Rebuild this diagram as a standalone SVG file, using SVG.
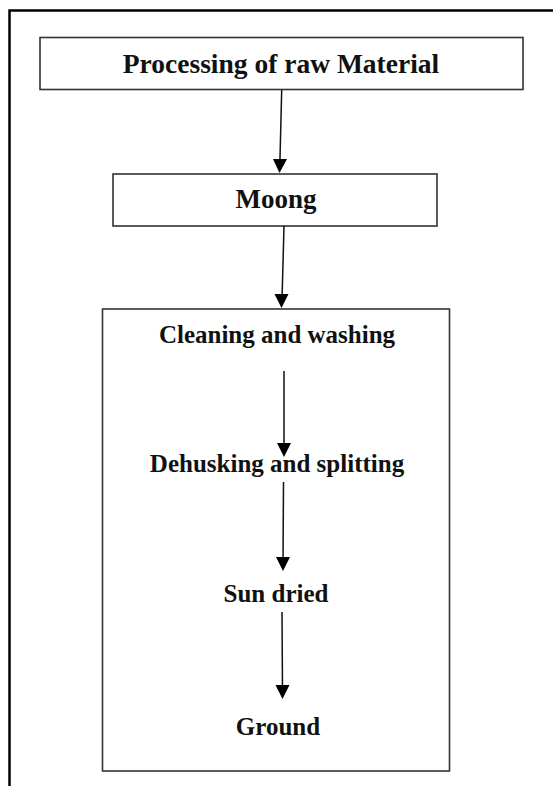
<svg xmlns="http://www.w3.org/2000/svg" width="553" height="786" viewBox="0 0 553 786">
<style>
.box{fill:#fff;stroke:#333;stroke-width:1.6}
.lbl{font-family:"Liberation Serif","Times New Roman",serif;font-weight:bold;font-size:25px;fill:#111;text-anchor:middle}
.big{font-size:27.5px}
.mid{font-size:27px}
.con{stroke:#111;stroke-width:1.5;fill:none}
.head{fill:#000}
.frame{stroke:#000;stroke-width:2.5;fill:none}
</style>
<rect width="553" height="786" fill="#fff"/>
<g id="frame">
<path class="frame" d="M553,10.5 H9.5 V786"/>
</g>
<g id="n1">
<rect class="box" x="40" y="37.5" width="483" height="52"/>
<text class="lbl big" x="281" y="73">Processing of raw Material</text>
</g>
<g id="n2">
<rect class="box" x="113" y="174" width="324" height="52"/>
<text class="lbl mid" x="276" y="208">Moong</text>
</g>
<g id="n3">
<rect class="box" x="102.5" y="309" width="347" height="462"/>
<text class="lbl" x="277" y="343">Cleaning and washing</text>
<text class="lbl" x="277" y="472">Dehusking and splitting</text>
<text class="lbl" x="276" y="602">Sun dried</text>
<text class="lbl" x="278" y="735">Ground</text>
</g>
<g id="connectors">
<path class="con" d="M281.7,90 L279.8,166"/>
<path class="head" d="M273,159 L287,159 L279.5,173 Z"/>
<path class="con" d="M284,226 L282,300"/>
<path class="head" d="M274.5,294 L288.5,294 L281.5,308 Z"/>
<path class="con" d="M284,371 L284,450"/>
<path class="head" d="M277,443 L291,443 L284,457 Z"/>
<path class="con" d="M283.5,482 L283,564"/>
<path class="head" d="M276,557 L290,557 L283,571 Z"/>
<path class="con" d="M282,612 L282.5,692"/>
<path class="head" d="M275.5,685 L289.5,685 L282.5,699 Z"/>
</g>
</svg>
